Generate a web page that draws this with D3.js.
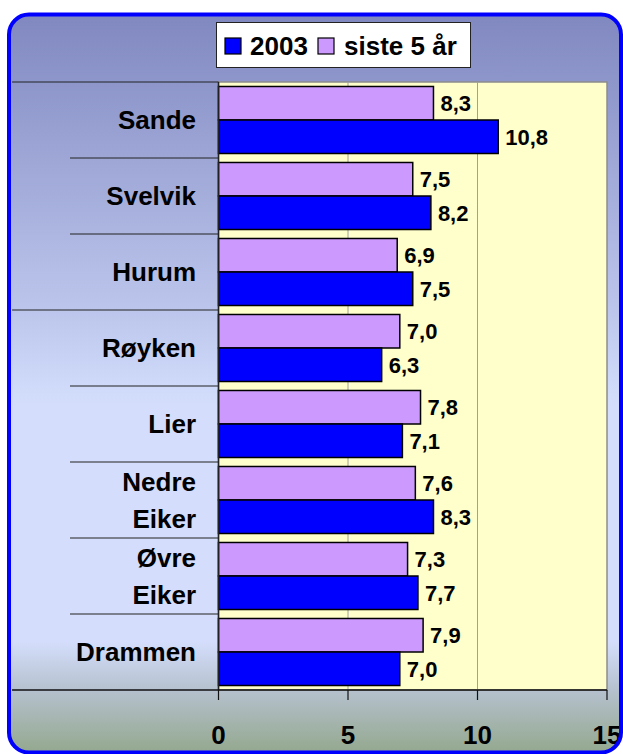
<!DOCTYPE html>
<html>
<head>
<meta charset="utf-8">
<script src="https://cdn.jsdelivr.net/npm/d3@7"></script>
<style>
  body { margin: 0; background: #fff; }
  text { font-family: "Liberation Sans", Arial, Helvetica, sans-serif; font-weight: bold; fill: #000; }
</style>
</head>
<body>
<div id="chart"></div>
<script>
// Data
const categories = ["Sande", "Svelvik", "Hurum", "Røyken", "Lier", "Nedre Eiker", "Øvre Eiker", "Drammen"];
const labelLines = [["Sande"], ["Svelvik"], ["Hurum"], ["Røyken"], ["Lier"], ["Nedre", "Eiker"], ["Øvre", "Eiker"], ["Drammen"]];
const seriesNames = ["siste 5 år", "2003"];
const values2003 = [10.8, 8.2, 7.5, 6.3, 7.1, 8.3, 7.7, 7.0];
const valuesSiste5 = [8.3, 7.5, 6.9, 7.0, 7.8, 7.6, 7.3, 7.9];
const xTicks = [0, 5, 10, 15];
const legendOrder = ["2003", "siste 5 år"];

const colors = { "2003": "#0000ff", "siste 5 år": "#cc99ff" };

// Size
const w = 623;
const h = 754;
const plot = { left: 218.5, right: 607, top: 82, bottom: 690 };

const svg = d3.select("#chart").append("svg")
  .attr("width", w)
  .attr("height", h);

// Background gradient
const defs = svg.append("defs");
const grad = defs.append("linearGradient")
  .attr("id", "bg").attr("x1", 0).attr("y1", 0).attr("x2", 0).attr("y2", 1);
[[0, "#8088c0"], [0.4, "#bcc6ec"], [0.53, "#d4defc"], [0.85, "#d4defc"], [0.918, "#b4c0cc"], [1, "#94a88e"]]
  .forEach(s => grad.append("stop").attr("offset", s[0]).attr("stop-color", s[1]));

svg.append("rect")
  .attr("x", 9).attr("y", 14.5)
  .attr("width", 612).attr("height", 738)
  .attr("rx", 20)
  .attr("fill", "url(#bg)");

// Scales
const x = d3.scaleLinear().domain([0, 15]).range([plot.left, plot.right]);
const y0 = d3.scaleBand().domain(categories).range([plot.top, plot.bottom]);
const y1 = d3.scaleBand().domain(seriesNames).range([0, y0.bandwidth()]).paddingOuter(0.134);

// Plot background
svg.append("rect")
  .attr("x", plot.left).attr("y", plot.top)
  .attr("width", plot.right - plot.left).attr("height", plot.bottom - plot.top)
  .attr("fill", "#ffffcc")
  .attr("stroke", "#8c8c8c")
  .attr("stroke-width", 1.5);

// Gridlines
svg.append("g")
  .selectAll("line")
  .data(xTicks.slice(1, -1))
  .enter().append("line")
  .attr("x1", d => x(d)).attr("x2", d => x(d))
  .attr("y1", plot.top).attr("y2", plot.bottom)
  .attr("stroke", "#a0a0a0").attr("stroke-width", 1);

// Category separators
const fullLines = [0, 3];
svg.append("g")
  .selectAll("line")
  .data(d3.range(categories.length))
  .enter().append("line")
  .attr("x1", i => fullLines.includes(i) ? 12 : 70)
  .attr("x2", plot.left)
  .attr("y1", i => y0(categories[i]))
  .attr("y2", i => y0(categories[i]))
  .attr("stroke", "#222").attr("stroke-width", 1);

// Bars
const rows = categories.map((c, i) => ({
  cat: c,
  bars: [
    { s: "siste 5 år", v: valuesSiste5[i] },
    { s: "2003", v: values2003[i] }
  ]
}));

const groups = svg.append("g")
  .selectAll("g")
  .data(rows)
  .enter().append("g")
  .attr("transform", d => `translate(0,${y0(d.cat)})`);

groups.selectAll("rect")
  .data(d => d.bars)
  .enter().append("rect")
  .attr("x", x(0))
  .attr("y", d => y1(d.s))
  .attr("width", d => x(d.v) - x(0))
  .attr("height", y1.bandwidth())
  .attr("fill", d => colors[d.s])
  .attr("stroke", "#000")
  .attr("stroke-width", 1.5);

// Value labels
groups.selectAll("text")
  .data(d => d.bars)
  .enter().append("text")
  .attr("x", d => x(d.v) + 7)
  .attr("y", d => y1(d.s) + y1.bandwidth() / 2)
  .attr("dy", "0.36em")
  .attr("font-size", 22)
  .text(d => d.v.toFixed(1).replace(".", ","));

// Category axis line
svg.append("line")
  .attr("x1", plot.left).attr("x2", plot.left)
  .attr("y1", plot.top).attr("y2", plot.bottom)
  .attr("stroke", "#222").attr("stroke-width", 1.5);

// Category labels
const catLabels = svg.append("g")
  .selectAll("text")
  .data(categories)
  .enter().append("text")
  .attr("text-anchor", "end")
  .attr("font-size", 26)
  .attr("x", 196)
  .attr("y", d => y0(d) + y0.bandwidth() / 2);

catLabels.each(function(d, i) {
  const lines = labelLines[i];
  const t = d3.select(this);
  lines.forEach((ln, j) => {
    t.append("tspan")
      .attr("x", 196)
      .attr("dy", j === 0 ? (0.36 - (lines.length - 1) * 0.71) + "em" : "1.42em")
      .text(ln);
  });
});

// X axis
svg.append("line")
  .attr("x1", 12).attr("x2", plot.right)
  .attr("y1", plot.bottom).attr("y2", plot.bottom)
  .attr("stroke", "#111").attr("stroke-width", 1.5);

const xAxis = svg.append("g");
xAxis.selectAll("line")
  .data(xTicks)
  .enter().append("line")
  .attr("x1", d => x(d)).attr("x2", d => x(d))
  .attr("y1", plot.bottom).attr("y2", plot.bottom + 10)
  .attr("stroke", "#111").attr("stroke-width", 1.2);
xAxis.selectAll("text")
  .data(xTicks)
  .enter().append("text")
  .attr("x", d => x(d))
  .attr("y", 735)
  .attr("dy", "0.36em")
  .attr("text-anchor", "middle")
  .attr("font-size", 26)
  .text(d => d);

// Legend
const legend = svg.append("g");
legend.append("rect")
  .attr("x", 216.5).attr("y", 22.5)
  .attr("width", 254).attr("height", 45)
  .attr("fill", "#fff")
  .attr("stroke", "#222").attr("stroke-width", 1);

const legendItems = [
  { s: legendOrder[0], sx: 225, tx: 250 },
  { s: legendOrder[1], sx: 318, tx: 344 }
];
legend.selectAll("rect.key")
  .data(legendItems)
  .enter().append("rect")
  .attr("class", "key")
  .attr("x", d => d.sx).attr("y", 38)
  .attr("width", 16).attr("height", 16)
  .attr("fill", d => colors[d.s])
  .attr("stroke", "#000").attr("stroke-width", 1.2);
legend.selectAll("text")
  .data(legendItems)
  .enter().append("text")
  .attr("x", d => d.tx).attr("y", 46)
  .attr("dy", "0.36em")
  .attr("font-size", 26)
  .text(d => d.s);

// Outer border
svg.append("rect")
  .attr("x", 9).attr("y", 14.5)
  .attr("width", 612).attr("height", 738)
  .attr("rx", 20)
  .attr("fill", "none")
  .attr("stroke", "#0000ff")
  .attr("stroke-width", 4);
</script>
</body>
</html>
